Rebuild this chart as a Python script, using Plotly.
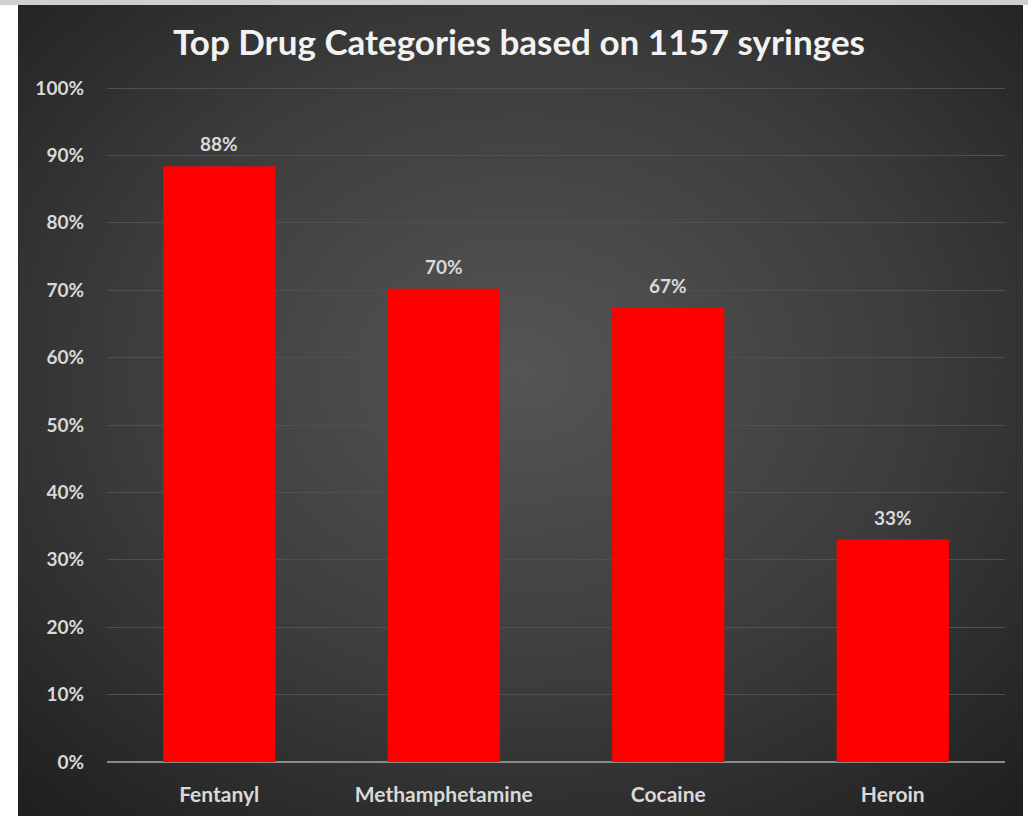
import base64
import plotly.graph_objects as go

categories = ["Fentanyl", "Methamphetamine", "Cocaine", "Heroin"]
shares = [0.884, 0.702, 0.674, 0.33]
tick_vals = [0, 0.1, 0.2, 0.3, 0.4, 0.5, 0.6, 0.7, 0.8, 0.9, 1.0]
tick_text = ["0%", "10%", "20%", "30%", "40%", "50%", "60%", "70%", "80%", "90%", "100%"]
title_text = "Top Drug Categories based on 1157 syringes"

W, H = 1028, 816
L, R, T, B = 107, 23, 86, 54
pw, ph = W - L - R, H - T - B

svg = (
    "<svg xmlns='http://www.w3.org/2000/svg' width='1005' height='811' preserveAspectRatio='none'>"
    "<defs><radialGradient id='g' cx='50%' cy='45%' r='72%'>"
    "<stop offset='0' stop-color='#555555'/>"
    "<stop offset='0.55' stop-color='#3c3c3c'/>"
    "<stop offset='1' stop-color='#202020'/>"
    "</radialGradient></defs>"
    "<rect x='0' y='0' width='1005' height='811' fill='url(#g)'/></svg>"
)
uri = "data:image/svg+xml;base64," + base64.b64encode(svg.encode()).decode()

fig = go.Figure()
fig.add_trace(go.Bar(
    x=categories, y=shares,
    marker=dict(color="#ff0000", line=dict(width=0)),
    hoverinfo="x+y",
))

for cat, val in zip(categories, shares):
    fig.add_annotation(
        x=cat, y=val, xref="x", yref="y",
        text=f"{val:.0%}", showarrow=False,
        yanchor="bottom", yshift=9,
        font=dict(family="Lato", size=19, color="#d9d9d9", weight="bold"),
    )

def px_x(px):
    return (px - L) / pw

def px_y(py):
    return (H - B - py) / ph

fig.add_layout_image(dict(
    source=uri, xref="paper", yref="paper",
    x=px_x(18), y=px_y(5), sizex=1005 / pw, sizey=811 / ph,
    xanchor="left", yanchor="top", sizing="stretch", layer="below",
))
fig.add_shape(type="rect", xref="paper", yref="paper",
              x0=px_x(0), x1=px_x(W), y0=px_y(5), y1=px_y(0),
              fillcolor="#cfcfcf", line=dict(width=0), layer="below")

fig.update_layout(
    width=W, height=H,
    margin=dict(l=L, r=R, t=T, b=B, autoexpand=False),
    paper_bgcolor="white", plot_bgcolor="rgba(0,0,0,0)",
    bargap=0.5, showlegend=False,
    title=dict(text=title_text, x=519 / W, xanchor="center", y=1 - 43 / H, yanchor="middle",
               font=dict(family="Lato", size=35, color="#f2f2f2", weight="bold")),
    xaxis=dict(showgrid=False, showline=False, ticks="", automargin=False,
               tickfont=dict(family="Lato", size=21, color="#d9d9d9", weight="bold"),
               ticklabelstandoff=18),
    yaxis=dict(range=[0, 1.003], tickvals=tick_vals, ticktext=tick_text, automargin=False,
               showgrid=True, gridcolor="#505050", gridwidth=1,
               zeroline=True, zerolinecolor="#8a8a8a", zerolinewidth=2,
               showline=False, ticks="",
               tickfont=dict(family="Lato", size=19, color="#d9d9d9", weight="bold"),
               ticklabelstandoff=22),
)

fig.write_html("out.html")
